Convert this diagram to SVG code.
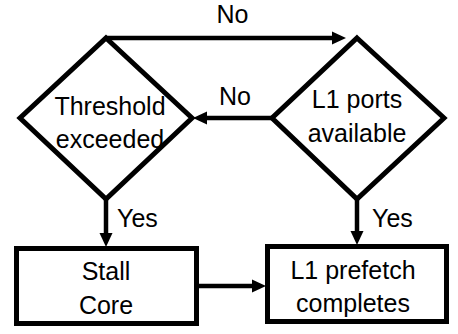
<svg xmlns="http://www.w3.org/2000/svg" width="458" height="334" viewBox="0 0 458 334">
<style>
.shape{fill:#fff;stroke:#000;stroke-width:5;stroke-linejoin:miter}
.conn{fill:none;stroke:#000;stroke-width:4.5}
text{font-family:"Liberation Sans",Arial,sans-serif;font-size:25px;fill:#000}
.c{text-anchor:middle}
</style>
<defs>
<marker id="arr" markerUnits="userSpaceOnUse" viewBox="0 0 14 14" markerWidth="14" markerHeight="14" refX="1" refY="7" orient="auto">
<path d="M0,0.5 L14,7 L0,13.5 z" fill="#000"/>
</marker>
</defs>
<g id="threshold">
<polygon class="shape" points="106,38 192,118 106,199 20,118"/>
<text class="c" x="110" y="115">Threshold</text>
<text class="c" x="110" y="148">exceeded</text>
</g>
<g id="ports">
<polygon class="shape" points="357,38 444,118 357,199 272,118"/>
<text class="c" x="357" y="108">L1 ports</text>
<text class="c" x="357" y="142">available</text>
</g>
<g id="stall">
<rect class="shape" x="16.5" y="248.5" width="180" height="75"/>
<text class="c" x="106" y="280">Stall</text>
<text class="c" x="106" y="314">Core</text>
</g>
<g id="prefetch">
<rect class="shape" x="267.5" y="246.5" width="179" height="75"/>
<text class="c" x="353" y="279">L1 prefetch</text>
<text class="c" x="353" y="312">completes</text>
</g>
<g id="connectors">
<path class="conn" d="M106,38 H333" marker-end="url(#arr)"/>
<path class="conn" d="M272,118 H206" marker-end="url(#arr)"/>
<path class="conn" d="M106,199 V234" marker-end="url(#arr)"/>
<path class="conn" d="M357,199 V232" marker-end="url(#arr)"/>
<path class="conn" d="M199,286 H253" marker-end="url(#arr)"/>
<text class="c" x="232.5" y="23">No</text>
<text class="c" x="235" y="105">No</text>
<text x="117" y="227">Yes</text>
<text x="372" y="227">Yes</text>
</g>
</svg>
